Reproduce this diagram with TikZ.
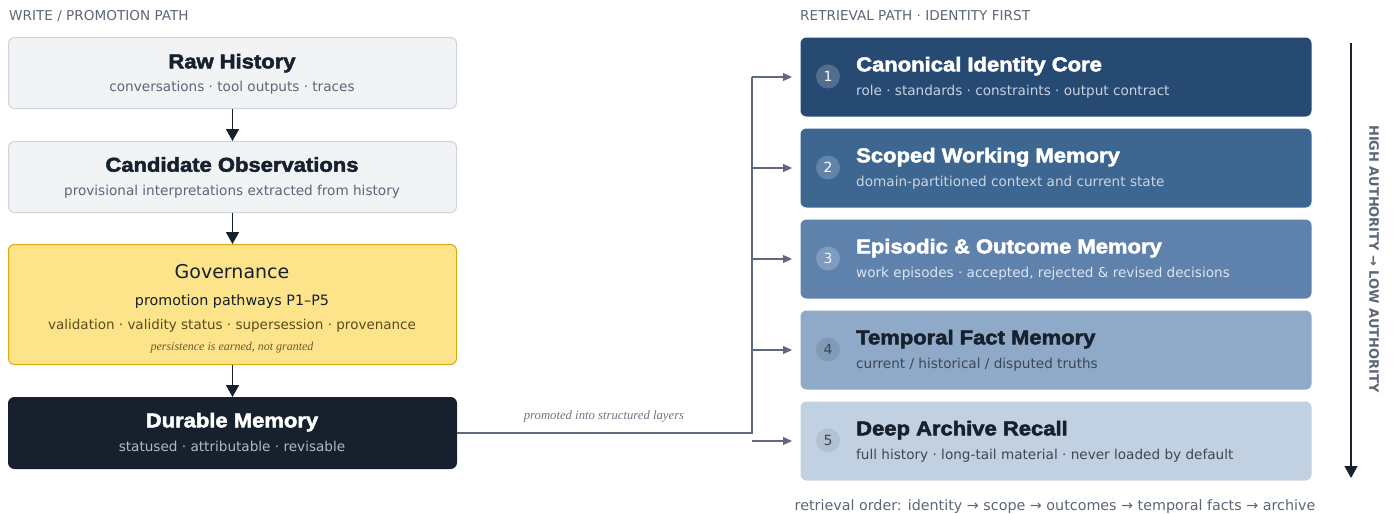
\documentclass[tikz,border=0pt]{standalone}
\usepackage{fontspec}
\setmainfont{DejaVu Sans}
\newfontfamily\titlefont[FakeStretch=1.1, BoldFeatures={FakeBold=2.5}]{Liberation Sans}
\newfontfamily\serifit{Liberation Serif}
\usetikzlibrary{arrows.meta}
\definecolor{hdr}{HTML}{5B6676}
\definecolor{ink}{HTML}{17212D}
\definecolor{lfill}{HTML}{F1F3F5}
\definecolor{ldraw}{HTML}{CFD5DC}
\definecolor{gfill}{HTML}{FDE48B}
\definecolor{gdraw}{HTML}{DCAA0E}
\definecolor{gtext}{HTML}{5C4B1B}
\definecolor{gital}{HTML}{6B5A2E}
\definecolor{dsub}{HTML}{B0B9C5}
\definecolor{rA}{HTML}{264A72}
\definecolor{rB}{HTML}{3D6690}
\definecolor{rC}{HTML}{5F82AD}
\definecolor{rD}{HTML}{8EAAC8}
\definecolor{rE}{HTML}{C1D1E2}
\definecolor{sA}{HTML}{C5D2E1}
\definecolor{sB}{HTML}{C9D6E4}
\definecolor{sC}{HTML}{DCE5F0}
\definecolor{sD}{HTML}{3B4757}
\definecolor{conn}{HTML}{5E6A7B}
\tikzset{
  box/.style={rounded corners=6pt, anchor=north west, inner sep=0pt, line width=1pt},
  lbox/.style={box, fill=lfill, draw=ldraw, minimum width=448pt, minimum height=71pt},
  gbox/.style={box, fill=gfill, draw=gdraw, minimum width=448pt, minimum height=120pt},
  dbox/.style={box, fill=ink, draw=ink, minimum width=448pt, minimum height=71pt},
  rbox/.style={box, draw=none, minimum width=511pt, minimum height=79pt},
  ttl/.style={font=\titlefont\bfseries\fontsize{20}{24}\selectfont, text=ink, inner sep=0pt, anchor=base},
  sub/.style={font=\fontsize{13.6}{16}\selectfont, text=hdr, inner sep=0pt, anchor=base},
  hdrtxt/.style={font=\fontsize{13.6}{16}\selectfont, text=hdr, inner sep=0pt, anchor=base west},
  num/.style={circle, minimum size=24pt, inner sep=0pt, font=\fontsize{14}{16}\selectfont},
  darr/.style={draw=ink, line width=1.6pt, -{Triangle[length=12pt,width=13pt]}},
  garr/.style={draw=conn, line width=1.2pt, -{Triangle[length=9pt,width=8pt]}, shorten >=8pt},
}
\begin{document}
\begin{tikzpicture}[x=1pt,y=-1pt]
\useasboundingbox (0,0) rectangle (1393,514);
% headers
\node[hdrtxt] (h1) at (9,20.7) {WRITE / PROMOTION PATH};
\node[hdrtxt] (h2) at (800,20.7) {RETRIEVAL PATH · IDENTITY FIRST};
% left column
\node[lbox] (raw) at (8,37) {};
\node[lbox] (cand) at (8,141) {};
\node[gbox] (gov) at (8,244) {};
\node[dbox] (dur) at (8,397) {};
\node[ttl] (rawt) at (232,68.3) {Raw History};
\node[sub] (raws) at (232,91.5) {conversations · tool outputs · traces};
\node[ttl] (candt) at (232,171.7) {Candidate Observations};
\node[sub] (cands) at (232,195.8) {provisional interpretations extracted from history};
\node[font=\fontsize{19}{22}\selectfont, text=ink, inner sep=0pt, anchor=base] (govt) at (232,278.3) {Governance};
\node[font=\fontsize{14.3}{17}\selectfont, text=ink!90!black, inner sep=0pt, anchor=base] (govp) at (232,305.5) {promotion pathways P1–P5};
\node[font=\fontsize{13.5}{16}\selectfont, text=gtext, inner sep=0pt, anchor=base] (govv) at (232,329.5) {validation · validity status · supersession · provenance};
\node[font=\serifit\itshape\fontsize{12}{14}\selectfont, text=gital, inner sep=0pt, anchor=base] (govi) at (232,350.5) {persistence is earned, not granted};
\node[ttl, text=white] (durt) at (232,427.3) {Durable Memory};
\node[sub, text=dsub] (durs) at (232,451.7) {statused · attributable · revisable};
\draw[darr] (raw.south) -- (cand.north);
\draw[darr] (cand.south) -- (gov.north);
\draw[darr] (gov.south) -- (dur.north);
% right column
\node[rbox, fill=rA] (r1) at (800,37) {};
\node[rbox, fill=rB] (r2) at (800,128) {};
\node[rbox, fill=rC] (r3) at (800,219) {};
\node[rbox, fill=rD] (r4) at (800,310) {};
\node[rbox, fill=rE] (r5) at (800,401) {};
\node[num, fill=white, fill opacity=0.2, text opacity=1, text=white] (n1) at (828,76.5) {1};
\node[num, fill=white, fill opacity=0.2, text opacity=1, text=white] (n2) at (828,167.5) {2};
\node[num, fill=white, fill opacity=0.2, text opacity=1, text=white!92!rC] (n3) at (828,258.5) {3};
\node[num, fill=black, fill opacity=0.09, text opacity=1, text=sD] (n4) at (828,349.5) {4};
\node[num, fill=black, fill opacity=0.07, text opacity=1, text=sD] (n5) at (828,440.5) {5};
\node[ttl, text=white, anchor=base west] (t1) at (856,71.3) {Canonical Identity Core};
\node[sub, text=sA, anchor=base west] (s1) at (856,95.7) {role · standards · constraints · output contract};
\node[ttl, text=white, anchor=base west] (t2) at (856,162.3) {Scoped Working Memory};
\node[sub, text=sB, anchor=base west] (s2) at (856,186.7) {domain-partitioned context and current state};
\node[ttl, text=white, anchor=base west] (t3) at (856,253.3) {Episodic \& Outcome Memory};
\node[sub, text=sC, anchor=base west] (s3) at (856,277.7) {work episodes · accepted, rejected \& revised decisions};
\node[ttl, anchor=base west] (t4) at (856,344.3) {Temporal Fact Memory};
\node[sub, text=sD, anchor=base west] (s4) at (856,368.7) {current / historical / disputed truths};
\node[ttl, anchor=base west] (t5) at (856,435.3) {Deep Archive Recall};
\node[sub, text=sD, anchor=base west] (s5) at (856,459.7) {full history · long-tail material · never loaded by default};
% connector
\coordinate (jtop) at (752,76.5);
\draw[draw=conn, line width=1.2pt] (dur.east) -| (jtop);
\draw[garr] (r1.west -| jtop) -- (r1.west);
\draw[garr] (r2.west -| jtop) -- (r2.west);
\draw[garr] (r3.west -| jtop) -- (r3.west);
\draw[garr] (r4.west -| jtop) -- (r4.west);
\draw[garr] (r5.west -| jtop) -- (r5.west);
\node[font=\serifit\itshape\fontsize{12.7}{15}\selectfont, text=hdr!90!white, inner sep=0pt, anchor=base] (plab) at (604,419.5) {promoted into structured layers};
% authority axis
\coordinate (atop) at (1351,43);
\coordinate (abot) at (1351,478);
\draw[darr, line width=1.5pt] (atop) -- (abot);
\node[rotate=-90, font=\bfseries\fontsize{13}{15}\selectfont, text=hdr, inner sep=0pt] (alab) at (1374,259) {HIGH AUTHORITY → LOW AUTHORITY};
% bottom caption
\node[font=\fontsize{14.3}{17}\selectfont, text=hdr, inner sep=0pt, anchor=base] (cap) at (1055,510.5) {retrieval order: identity → scope → outcomes → temporal facts → archive};
\end{tikzpicture}
\end{document}
